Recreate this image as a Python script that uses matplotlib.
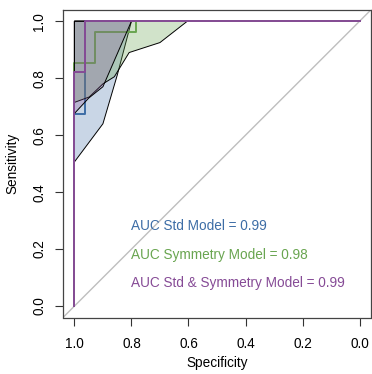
import matplotlib
matplotlib.use("Agg")
import matplotlib.pyplot as plt

plt.rcParams['font.family'] = ['Liberation Sans', 'DejaVu Sans']

# ROC curves (specificity, sensitivity)
std_spec = [1.0, 1.0, 0.963, 0.963, 0.0]
std_sens = [0.0, 0.676, 0.676, 1.0, 1.0]
sym_spec = [1.0, 1.0, 0.927, 0.927, 0.784, 0.784, 0.0]
sym_sens = [0.0, 0.855, 0.855, 0.962, 0.962, 1.0, 1.0]
both_spec = [1.0, 1.0, 0.962, 0.962, 0.0]
both_sens = [0.0, 0.822, 0.822, 1.0, 1.0]

# lower bound of the sensitivity confidence bands (upper bound is 1)
std_ci_spec = [1.0, 0.90, 0.85, 0.80]
std_ci_lo = [0.506, 0.64, 0.81, 1.0]
sym_ci_spec = [1.0, 0.948, 0.90, 0.86, 0.808, 0.70, 0.604]
sym_ci_lo = [0.715, 0.734, 0.78, 0.805, 0.89, 0.925, 1.0]
both_ci_spec = [1.0, 0.95, 0.90, 0.80]
both_ci_lo = [0.676, 0.73, 0.77, 1.0]

labels = ["AUC Std Model = 0.99", "AUC Symmetry Model = 0.98",
          "AUC Std & Symmetry Model = 0.99"]
label_y = [0.28, 0.18, 0.08]
colors = ['#3D6DA6', '#69A550', '#864B96']
alphas = [0.28, 0.3, 0.25]

fig = plt.figure(figsize=(3.72, 3.74), dpi=100)
W, H = 372, 374
ax = fig.add_axes([63 / W, (H - 317.5) / H, (371 - 63) / W, (317.5 - 9.8) / H])

ax.axline((1, 0), (0, 1), color='#BEBEBE', lw=1, zorder=1)

curves = [(std_spec, std_sens, std_ci_spec, std_ci_lo),
          (sym_spec, sym_sens, sym_ci_spec, sym_ci_lo),
          (both_spec, both_sens, both_ci_spec, both_ci_lo)]

for i, (sp, se, cs, lo) in enumerate(curves):
    # confidence shape: lower bound then back along sens = 1
    px = list(cs) + [cs[-1], cs[0]]
    py = list(lo) + [1.0, 1.0]
    ax.fill(px, py, facecolor=colors[i], alpha=alphas[i], zorder=2 + i)
    ax.fill(px, py, facecolor='none', edgecolor='black', lw=0.7, zorder=2 + i)
    ax.plot(sp, se, color=colors[i], lw=1.4, zorder=2 + i)
    ax.text(0.8, label_y[i], labels[i], color=colors[i], fontsize=9.8,
            ha='left', va='center')

ax.set_xlim(1.04, -0.04)
ax.set_ylim(-0.04, 1.04)
ticks = [0.0, 0.2, 0.4, 0.6, 0.8, 1.0]
ax.set_xticks(ticks)
ax.set_xticklabels([f"{t:.1f}" for t in ticks])
ax.set_yticks(ticks)
ax.set_yticklabels([f"{t:.1f}" for t in ticks], rotation=90, va='center')
ax.tick_params(axis='x', length=6, width=0.8, pad=8, labelsize=9.8, color='#333333')
ax.tick_params(axis='y', length=6, width=0.8, pad=6, labelsize=9.8, color='#333333')
for s in ax.spines.values():
    s.set_color('#444444')
    s.set_linewidth(0.9)

ax.set_xlabel("Specificity", fontsize=9.8, labelpad=4)
ax.set_ylabel("Sensitivity", fontsize=9.8, labelpad=9)

fig.savefig("out.png", dpi=100)
